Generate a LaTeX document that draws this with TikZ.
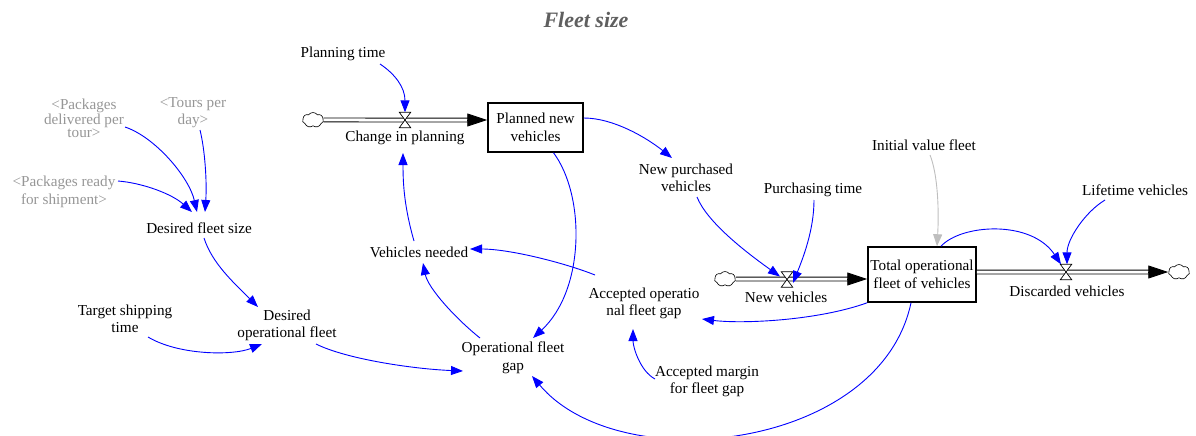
\documentclass[tikz,border=0pt]{standalone}
\usepackage{fontspec}
\setmainfont{Liberation Serif}
\usetikzlibrary{arrows.meta,shapes.symbols}

\definecolor{linkblue}{RGB}{0,0,255}
\definecolor{shadowgray}{RGB}{150,150,150}
\definecolor{initgray}{RGB}{190,190,190}
\definecolor{titlegray}{RGB}{95,95,95}

\tikzset{
  every node/.style={font=\fontsize{15.2}{17.5}\selectfont},
  lbl/.style={align=center, inner sep=1pt, text=black},
  shadowlbl/.style={lbl, text=shadowgray},
  stock/.style={draw=black, line width=1.5pt, fill=white, align=center, inner sep=0pt},
  cloudnode/.style={cloud, cloud puffs=7, cloud puff arc=110, aspect=1.4, draw=black, fill=white,
    line width=0.6pt, minimum width=21pt, minimum height=15pt, inner sep=0pt},
  valvebox/.style={inner sep=0pt, minimum width=11pt, minimum height=15pt},
  valveshape/.style={draw=black, fill=white, line width=0.7pt},
  pipe/.style={draw=black, line width=0.9pt, double=white, double distance=3pt},
  pipehead/.style={draw=black, line width=0.9pt, -{Triangle[length=20pt,width=13pt]}},
  link/.style={draw=linkblue, line width=0.9pt, -{Triangle[length=12pt,width=9pt]}},
  initlink/.style={link, draw=initgray},
}

\begin{document}
\begin{tikzpicture}[x=1pt,y=1pt]
\useasboundingbox (0,0) rectangle (1196,-436);

% title
\node[font=\fontsize{22}{24}\selectfont\bfseries\itshape, text=titlegray] (title) at (586,-20) {Fleet size};

% stocks
\node[stock, minimum width=95pt, minimum height=49pt] (pnv) at (535.5,-127.5) {Planned new\\vehicles};
\node[stock, minimum width=108pt, minimum height=55pt] (tof) at (922,-274.5) {Total operational\\fleet of vehicles};

% sources and sinks
\node[cloudnode] (c1) at (313,-120) {};
\node[cloudnode] (c2) at (725,-279) {};
\node[cloudnode] (c3) at (1179,-272) {};

% valve positions
\node[valvebox] (v1) at (405,-120) {};
\node[valvebox] (v2) at (787,-279.5) {};
\node[valvebox] (v3) at (1066,-272) {};

% pipes
\coordinate (p1in) at (pnv.west |- c1.center);
\draw[pipe] (c1.east) -- ([xshift=-18pt]p1in);
\draw[pipehead] ([xshift=-20pt]p1in) -- (p1in);

\coordinate (p2in) at (tof.west |- c2.center);
\draw[pipe] (c2.east) -- ([xshift=-18pt]p2in);
\draw[pipehead] ([xshift=-20pt]p2in) -- (p2in);

\coordinate (p3out) at (tof.east |- c3.center);
\draw[pipe] (p3out) -- ([xshift=-18pt]c3.west);
\draw[pipehead] ([xshift=-20pt]c3.west) -- (c3.west);

% valves
\foreach \v in {v1,v2,v3}
  \draw[valveshape] (\v.north west) -- (\v.north east) -- (\v.south west) -- (\v.south east) -- cycle;

% flow labels
\node[lbl] (cip) at (405,-138) {Change in planning};
\node[lbl] (nv) at (786,-297) {New vehicles};
\node[lbl] (dv) at (1067,-291) {Discarded vehicles};

% auxiliaries
\node[lbl] (pt) at (343,-54) {Planning time};
\node[shadowlbl, font=\fontsize{15.2}{13.5}\selectfont] (pdt) at (84,-118.5) {<Packages\\delivered per\\tour>};
\node[shadowlbl] (tpd) at (193,-112.5) {<Tours per\\day>};
\node[shadowlbl] (prs) at (64,-192) {<Packages ready\\for shipment>};
\node[lbl] (dfs) at (199,-228) {Desired fleet size};
\node[lbl] (tst) at (125,-319) {Target shipping\\time};
\node[lbl] (dof) at (287,-325.5) {Desired\\operational fleet};
\node[lbl] (vn) at (419,-252) {Vehicles needed};
\node[lbl] (ofg) at (513,-358) {Operational fleet\\gap};
\node[lbl] (aofg) at (644,-303.5) {Accepted operatio\\nal fleet gap};
\node[lbl] (amfg) at (707,-381.5) {Accepted margin\\for fleet gap};
\node[lbl] (npv) at (686,-178) {New purchased\\vehicles};
\node[lbl] (ptime) at (813,-190) {Purchasing time};
\node[lbl] (ivf) at (924,-145) {Initial value fleet};
\node[lbl] (lv) at (1135,-190) {Lifetime vehicles};

% causal links
\draw[link] ([shift={(37,-10)}]pt.center) .. controls +(15,-10) and +(0,25) .. (v1.north);
\draw[link] ([shift={(-5,11)}]vn.center) .. controls +(-10,35) and +(0,-30) .. ([shift={(-2,-15)}]cip.center);
\draw[link] ([yshift=9.5]pnv.east) .. controls +(30,0) and +(-25,20) .. ([shift={(-14,20)}]npv.center);
\draw[link] ([xshift=18]pnv.south) .. controls +(32,-43) and +(52,48) .. ([shift={(20,20)}]ofg.center);
\draw[link] ([shift={(11,-19)}]npv.center) .. controls +(10,-25) and +(-35,25) .. ([shift={(-7,3)}]v2.center);
\draw[link] ([shift={(1,-10)}]ptime.center) .. controls +(0,-30) and +(10,25) .. ([shift={(6,-3.5)}]v2.center);
\draw[initlink] ([shift={(6,-10)}]ivf.center) .. controls +(8,-20) and +(2,35) .. ([xshift=15]tof.north);
\draw[link] ([xshift=19]tof.north) .. controls +(20,22) and +(-30,45) .. ([xshift=-5]v3.north);
\draw[link] ([shift={(-30,-10)}]lv.center) .. controls +(-20,-12) and +(0,25) .. ([xshift=1]v3.north);
\draw[link] (tof.south west) .. controls +(-50,-18) and +(40,-5) .. ([shift={(58,-15.5)}]aofg.center);
\draw[link] ([xshift=-11]tof.south) .. controls +(-31,-147) and +(88,-104) .. ([shift={(19,-18)}]ofg.center);
\draw[link] ([shift={(-49,28.5)}]aofg.center) .. controls +(-30,12) and +(40,0) .. ([shift={(51,3)}]vn.center);
\draw[link] ([shift={(-33,20)}]ofg.center) .. controls +(-25,20) and +(5,-25) .. ([shift={(4,-11)}]vn.center);
\draw[link] ([shift={(29,-18.5)}]dof.center) .. controls +(30,-15) and +(-50,2) .. ([shift={(-50,-13)}]ofg.center);
\draw[link] ([shift={(23,-18)}]tst.center) .. controls +(30,-18) and +(-30,-12) .. ([shift={(-25,-18.5)}]dof.center);
\draw[link] ([shift={(5,-10)}]dfs.center) .. controls +(8,-25) and +(-25,25) .. ([shift={(-29,18.5)}]dof.center);
\draw[link] ([shift={(41,-8.5)}]pdt.center) .. controls +(30,-10) and +(-8,35) .. ([shift={(-2,16)}]dfs.center);
\draw[link] ([shift={(7,-17.5)}]tpd.center) .. controls +(5,-20) and +(2,30) .. ([shift={(6,16)}]dfs.center);
\draw[link] ([shift={(54,11)}]prs.center) .. controls +(25,-2) and +(-20,18) .. ([shift={(-7,16)}]dfs.center);
\draw[link] ([shift={(-52,2.5)}]amfg.center) .. controls +(-15,8) and +(0,-18) .. ([shift={(-11,-25.5)}]aofg.center);
\end{tikzpicture}
\end{document}
